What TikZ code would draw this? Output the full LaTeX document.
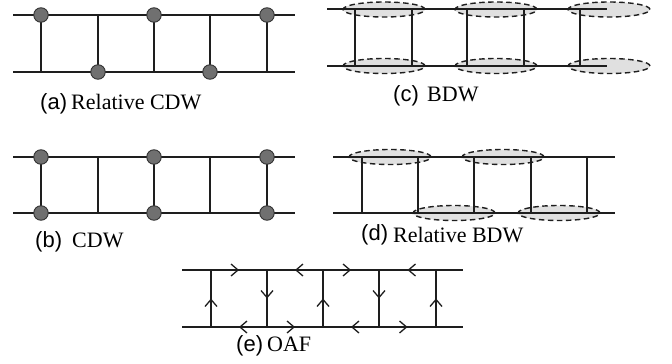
\documentclass[tikz,border=0pt]{standalone}
\usepackage{fontspec}
\setmainfont{Liberation Serif}
\setsansfont{Liberation Sans}
\usetikzlibrary{shapes.geometric,arrows.meta,decorations.markings}
\definecolor{linec}{RGB}{30,30,30}
\definecolor{sitefill}{RGB}{112,112,112}
\definecolor{sitedraw}{RGB}{50,50,50}
\definecolor{bondfill}{RGB}{224,224,224}
\definecolor{bonddraw}{RGB}{30,30,30}
\begin{document}
\begin{tikzpicture}[x=1pt,y=-1pt,
  line/.style={draw=linec, line width=1.3pt},
  site/.style={circle, draw=sitedraw, fill=sitefill, line width=0.9pt, minimum size=14.5pt, inner sep=0pt},
  bond/.style={ellipse, draw=bonddraw, fill=bondfill, dash pattern=on 5.5pt off 3.5pt, line width=1.4pt, minimum width=82pt, minimum height=15pt, inner sep=0pt},
  lbl/.style={anchor=base west, inner sep=0pt, font=\fontsize{22}{26}\selectfont},
  slbl/.style={lbl, font=\fontsize{22}{26}\selectfont\sffamily},
  flow/.style={postaction={decorate}, decoration={markings, mark=at position 0.5 with {\arrow[linec]{Straight Barb[length=7pt,width=12pt]}}}}
]
\fill[white] (0,0) rectangle (672,364);
\useasboundingbox (0,0) rectangle (672,364);

% ---------- (a) Relative CDW ----------
\coordinate (aTL) at (13,15); \coordinate (aTR) at (295,15);
\coordinate (aBL) at (13,72); \coordinate (aBR) at (295,72);
\foreach \i/\x in {1/41,2/98,3/154,4/210,5/267}{
  \coordinate (at\i) at (\x,15); \coordinate (ab\i) at (\x,72);
}
\draw[line] (aTL) -- (aTR);
\draw[line] (aBL) -- (aBR);
\foreach \i in {1,...,5}{ \draw[line] (at\i) -- (ab\i); }
\node[site] (sa1) at (at1) {};
\node[site] (sa2) at (ab2) {};
\node[site] (sa3) at (at3) {};
\node[site] (sa4) at (ab4) {};
\node[site] (sa5) at (at5) {};
\node[slbl] (la1) at (40,109) {(a)};
\node[lbl] (la2) at (71,109) {Relative CDW};

% ---------- (b) CDW ----------
\coordinate (bTL) at (13,157); \coordinate (bTR) at (295,157);
\coordinate (bBL) at (13,213); \coordinate (bBR) at (295,213);
\foreach \i/\x in {1/41,2/98,3/154,4/210,5/267}{
  \coordinate (bt\i) at (\x,157); \coordinate (bb\i) at (\x,213);
}
\draw[line] (bTL) -- (bTR);
\draw[line] (bBL) -- (bBR);
\foreach \i in {1,...,5}{ \draw[line] (bt\i) -- (bb\i); }
\foreach \i in {1,3,5}{
  \node[site] (sbt\i) at (bt\i) {};
  \node[site] (sbb\i) at (bb\i) {};
}
\node[slbl] (lb1) at (35,247) {(b)};
\node[lbl] (lb2) at (72,247) {CDW};

% ---------- (c) BDW ----------
\coordinate (cTL) at (327,9); \coordinate (cTR) at (607,9);
\coordinate (cBL) at (327,66); \coordinate (cBR) at (607,66);
\foreach \i/\x in {1/355,2/412,3/467,4/524,5/580}{
  \coordinate (ct\i) at (\x,9); \coordinate (cb\i) at (\x,66);
}
\foreach \j/\x in {1/384,2/496,3/609}{
  \node[bond] (cet\j) at (\x,9.5) {};
  \node[bond] (ceb\j) at (\x,66) {};
}
\draw[line] (cTL) -- (cTR);
\draw[line] (cBL) -- (cBR);
\foreach \i in {1,...,5}{ \draw[line] (ct\i) -- (cb\i); }
\node[slbl] (lc1) at (393,101) {(c)};
\node[lbl] (lc2) at (427,101) {BDW};

% ---------- (d) Relative BDW ----------
\coordinate (dTL) at (333,157); \coordinate (dTR) at (615,157);
\coordinate (dBL) at (333,213); \coordinate (dBR) at (615,213);
\foreach \i/\x in {1/362,2/418,3/474,4/531,5/587}{
  \coordinate (dt\i) at (\x,157); \coordinate (db\i) at (\x,213);
}
\node[bond] (det1) at (390,157) {};
\node[bond] (det2) at (503,157) {};
\node[bond] (deb1) at (454,213) {};
\node[bond] (deb2) at (559,213) {};
\draw[line] (dTL) -- (dTR);
\draw[line] (dBL) -- (dBR);
\foreach \i in {1,...,5}{ \draw[line] (dt\i) -- (db\i); }
\node[slbl] (ld1) at (361,240) {(d)};
\node[lbl] (ld2) at (393,242) {Relative BDW};

% ---------- (e) OAF ----------
\coordinate (eTL) at (182,270); \coordinate (eTR) at (463,270);
\coordinate (eBL) at (182,327); \coordinate (eBR) at (463,327);
\foreach \i/\x in {1/211,2/267,3/323,4/379,5/436}{
  \coordinate (et\i) at (\x,270); \coordinate (eb\i) at (\x,327);
}
\draw[line] (eTL) -- (eTR);
\draw[line] (eBL) -- (eBR);
% rungs: up, down, up, down, up
\draw[line,flow] (eb1) -- (et1);
\draw[line,flow] (et2) -- (eb2);
\draw[line,flow] (eb3) -- (et3);
\draw[line,flow] (et4) -- (eb4);
\draw[line,flow] (eb5) -- (et5);
% top: > < > <
\draw[line,flow] (et1) -- (et2);
\draw[line,flow] (et3) -- (et2);
\draw[line,flow] (et3) -- (et4);
\draw[line,flow] (et5) -- (et4);
% bottom: < > < >
\draw[line,flow] (eb2) -- (eb1);
\draw[line,flow] (eb2) -- (eb3);
\draw[line,flow] (eb4) -- (eb3);
\draw[line,flow] (eb4) -- (eb5);
\node[slbl] (le1) at (236,351) {(e)};
\node[lbl] (le2) at (267,351) {OAF};
\end{tikzpicture}
\end{document}
